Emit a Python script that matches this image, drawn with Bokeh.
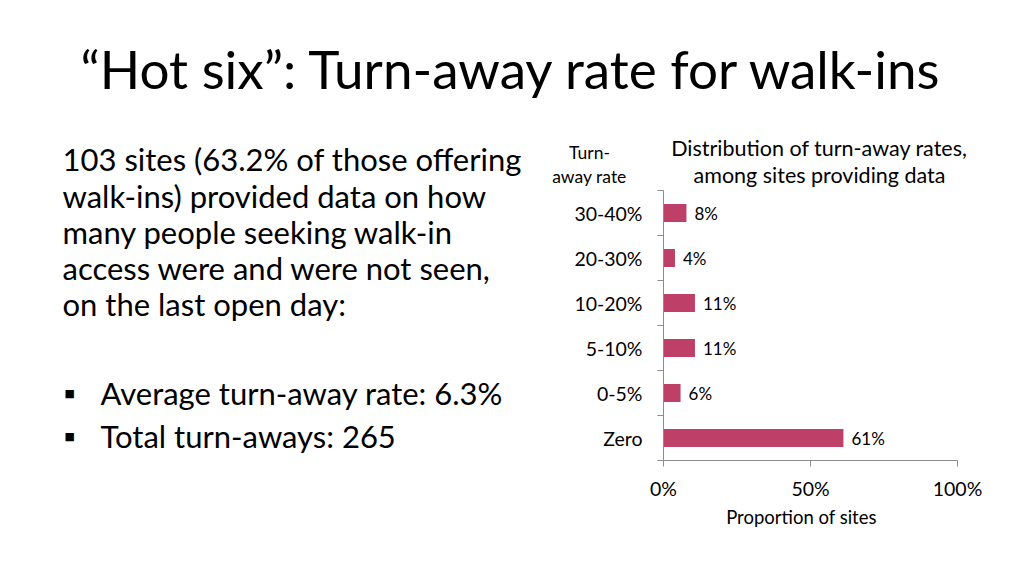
from bokeh.plotting import figure
from bokeh.models import (Range1d, FixedTicker, NumeralTickFormatter, Label,
                          ColumnDataSource)
from bokeh.core.properties import value
from bokeh.embed import file_html
from bokeh.resources import INLINE

# ---------------- data ----------------
title_text = "\u201cHot six\u201d: Turn-away rate for walk-ins"
body_lines = [
    "103 sites (63.2% of those offering",
    "walk-ins) provided data on how",
    "many people seeking walk-in",
    "access were and were not seen,",
    "on the last open day:",
]
bullet_lines = [
    "Average turn-away rate: 6.3%",
    "Total turn-aways: 265",
]
categories = ["Zero", "0-5%", "5-10%", "10-20%", "20-30%", "30-40%"]
shares = [0.612, 0.058, 0.107, 0.107, 0.039, 0.078]
share_labels = ["61%", "6%", "11%", "11%", "4%", "8%"]
x_ticks = [0, 0.5, 1.0]
chart_title = ["Distribution of turn-away rates,", "among sites providing data"]
y_title = ["Turn-", "away rate"]
x_title = "Proportion of sites"

FONT = "Lato"
BAR = "#BE4069"
AXIS = "#8C8C8C"

W, H = 1008, 560
# pixel box of the chart area inside the slide
PL, PR, PT, PB = 663, 957, 190, 460
n = len(categories)
xs = (PR - PL) / 1.0          # px per unit share
ys = (PB - PT) / n            # px per category

p = figure(width=W, height=H, output_backend="svg", toolbar_location=None,
           x_range=Range1d(-PL / xs, (W - PL) / xs),
           y_range=Range1d(-0.5 - (H - PB) / ys, -0.5 + PB / ys),
           min_border=0)
p.outline_line_color = None
p.xgrid.visible = False
p.ygrid.visible = False
p.background_fill_color = "white"
p.border_fill_color = "white"

pos = list(range(n))
src = ColumnDataSource(dict(y=pos, share=shares, lab=share_labels, cat=categories))
p.hbar(y="y", left=0, right="share", height=0.4, source=src,
       fill_color=BAR, line_color=None)
p.text(x="share", y="y", text="lab", source=src, x_offset=8,
       text_baseline="middle", text_align="left", text_font=value(FONT),
       text_font_size="17px", text_color="#000000")

# y axis: labels at centres, ticks at boundaries
ya = p.yaxis[0]
ya.fixed_location = 0
ya.bounds = (-0.5, n - 0.5)
ya.ticker = FixedTicker(ticks=pos, minor_ticks=[i - 0.5 for i in range(n + 1)])
ya.major_label_overrides = {i: c for i, c in zip(pos, categories)}
ya.major_tick_out = 0
ya.major_tick_in = 0
ya.minor_tick_out = 6
ya.minor_tick_in = 0
ya.minor_tick_line_color = AXIS
ya.axis_line_color = AXIS
ya.major_label_standoff = 15
ya.major_label_text_font = FONT
ya.major_label_text_font_size = "19.5px"
ya.major_label_text_color = "#000000"

xa = p.xaxis[0]
xa.fixed_location = -0.5
xa.bounds = (0, 1)
xa.ticker = FixedTicker(ticks=x_ticks, minor_ticks=[])
xa.formatter = NumeralTickFormatter(format="0%")
xa.major_tick_out = 6
xa.major_tick_in = 0
xa.major_tick_line_color = AXIS
xa.axis_line_color = AXIS
xa.major_label_standoff = 10
xa.major_label_text_font = FONT
xa.major_label_text_font_size = "19.5px"
xa.major_label_text_color = "#000000"


def lab(X, Y, text, size, align="left", color="#000000", font=FONT):
    # Y is the intended baseline in slide pixels; compensate for the
    # renderer's alphabetic-baseline placement
    Y = Y - 0.42 * size
    p.add_layout(Label(x=X, y=H - Y, x_units="screen", y_units="screen",
                       text=text, text_align=align, text_baseline="alphabetic",
                       text_font=font, text_font_size=f"{size}px",
                       text_color=color))


lab(512, 90, title_text, 53, align="center")
for i, line in enumerate(body_lines):
    lab(62, 172 + i * 36.2, line, 31)
for i, line in enumerate(bullet_lines):
    lab(64, 398 + i * 43, "\u25a0", 11, font="DejaVu Sans")
    lab(100, 406 + i * 43, line, 31)

lab(819, 157, chart_title[0], 21.5, align="center")
lab(819, 184, chart_title[1], 21.5, align="center")
lab(589, 159, y_title[0], 17.5, align="center")
lab(589, 183, y_title[1], 17.5, align="center")
lab(801, 524, x_title, 18.5, align="center")

open("out.html", "w").write(file_html(p, INLINE))
